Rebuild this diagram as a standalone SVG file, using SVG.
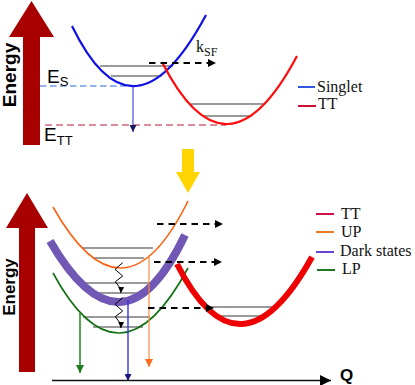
<svg xmlns="http://www.w3.org/2000/svg" width="415" height="385" viewBox="0 0 415 385">
<style>
.lvl{stroke:#9a9a9a;stroke-width:2;fill:none}
.dash{stroke:#000;stroke-width:2;stroke-dasharray:6.5 5;fill:none}
.crv{fill:none}
.leg{font-family:"Liberation Serif","Times New Roman",serif;font-size:16px;fill:#111}
.en{font-family:"Liberation Sans",Arial,sans-serif;font-weight:bold;fill:#000}
.lab{font-family:"Liberation Sans",Arial,sans-serif;fill:#000}
</style>
<defs>
<marker id="ahk" viewBox="0 0 10 10" refX="10" refY="5" markerWidth="8" markerHeight="8" markerUnits="userSpaceOnUse" orient="auto"><path d="M0,0 L10,5 L0,10 z" fill="#000"/></marker>
<marker id="ahs" viewBox="0 0 10 10" refX="10" refY="5" markerWidth="6" markerHeight="6" markerUnits="userSpaceOnUse" orient="auto"><path d="M0,0 L10,5 L0,10 z" fill="#000"/></marker>
<marker id="ahn" viewBox="0 0 10 10" refX="10" refY="5" markerWidth="7" markerHeight="7" markerUnits="userSpaceOnUse" orient="auto"><path d="M0,0 L10,5 L0,10 z" fill="#1a1a60"/></marker>
<marker id="ahb" viewBox="0 0 10 10" refX="10" refY="5" markerWidth="7" markerHeight="7" markerUnits="userSpaceOnUse" orient="auto"><path d="M0,0 L10,5 L0,10 z" fill="#1a1a80"/></marker>
<marker id="ahg" viewBox="0 0 10 10" refX="10" refY="5" markerWidth="8" markerHeight="8" markerUnits="userSpaceOnUse" orient="auto"><path d="M0,0 L10,5 L0,10 z" fill="#1d7a1d"/></marker>
<marker id="aho" viewBox="0 0 10 10" refX="10" refY="5" markerWidth="8" markerHeight="8" markerUnits="userSpaceOnUse" orient="auto"><path d="M0,0 L10,5 L0,10 z" fill="#ff6a1a"/></marker>
<marker id="ahq" viewBox="0 0 10 10" refX="10" refY="5" markerWidth="11" markerHeight="11" markerUnits="userSpaceOnUse" orient="auto"><path d="M0,0 L10,5 L0,10 z" fill="#000"/></marker>
</defs>

<!-- ===== Top panel ===== -->
<g id="top-energy-arrow">
<polygon points="31.5,1 54,37 40,37 40,145 23,145 23,37 9,37" fill="#a80000"/>
<text class="en" font-size="19" transform="translate(16,75) rotate(-90)" text-anchor="middle">Energy</text>
</g>

<g id="top-levels">
<line class="lvl" x1="100" y1="66" x2="173" y2="66"/>
<line class="lvl" x1="111" y1="76" x2="162" y2="76"/>
<line class="lvl" x1="191" y1="104" x2="265" y2="104"/>
<line class="lvl" x1="204" y1="116" x2="252" y2="116"/>
</g>

<g id="top-refs">
<line x1="40" y1="86" x2="134" y2="86" stroke="#6f9be6" stroke-width="1.3" stroke-dasharray="6.5 3.5"/>
<line x1="45" y1="125" x2="226" y2="125" stroke="#d06a7a" stroke-width="1.3" stroke-dasharray="7 4"/>
<text class="lab" x="47" y="83" font-size="19">E<tspan font-size="13" dy="3">S</tspan></text>
<text class="lab" x="44" y="141" font-size="19">E<tspan font-size="13" dy="4">TT</tspan></text>
</g>

<g id="singlet">
<path class="crv" d="M72,26 Q133,151.5 206,15" stroke="#1010e6" stroke-width="2.2"/>
</g>
<g id="tt-top">
<path class="crv" d="M162,62 Q226.5,189 297,56" stroke="#ff0a0a" stroke-width="2.2"/>
</g>

<g id="top-connectors">
<line x1="133" y1="87" x2="133" y2="132" stroke="#4a4ad8" stroke-width="1.2" marker-end="url(#ahn)"/>
<line class="dash" x1="149" y1="63" x2="216" y2="63" marker-end="url(#ahk)"/>
<text x="196" y="52" class="leg" font-size="16">k<tspan font-size="12" dy="4">SF</tspan></text>
</g>

<g id="top-legend">
<line x1="298" y1="87" x2="315" y2="87" stroke="#3355dd" stroke-width="2"/>
<text class="leg" x="317" y="92">Singlet</text>
<line x1="298" y1="106" x2="316" y2="106" stroke="#cc1133" stroke-width="2"/>
<text class="leg" x="318" y="109">TT</text>
</g>

<g id="yellow-arrow">
<polygon points="182,149 194,149 194,172 200,172 188,193 176,172 182,172" fill="#ffd500"/>
</g>

<!-- ===== Bottom panel ===== -->
<g id="bottom-energy-arrow">
<polygon points="27,193 48,228 35,228 35,372 19,372 19,228 6,228" fill="#a80000"/>
<text class="en" font-size="17" transform="translate(15,287) rotate(-90)" text-anchor="middle">Energy</text>
</g>

<g id="bottom-levels">
<line class="lvl" x1="83" y1="248" x2="153" y2="248"/>
<line class="lvl" x1="93" y1="258" x2="144" y2="258"/>
<line class="lvl" x1="83" y1="283" x2="150" y2="283"/>
<line class="lvl" x1="93" y1="293" x2="145" y2="293"/>
<line class="lvl" x1="83" y1="317" x2="150" y2="317"/>
<line class="lvl" x1="93" y1="327" x2="143" y2="327"/>
<line class="lvl" x1="208" y1="307" x2="276" y2="307"/>
<line class="lvl" x1="219" y1="316" x2="265" y2="316"/>
</g>

<g id="UP">
<path class="crv" d="M53,207 Q123.5,332 188,201" stroke="#ff6010" stroke-width="1.6"/>
</g>
<g id="LP">
<path class="crv" d="M53,273 Q119.5,395.5 188,268" stroke="#107010" stroke-width="1.6"/>
</g>
<g id="dark-states">
<path class="crv" d="M50,241 Q122.5,366 185,235" stroke="#7058b4" stroke-width="8"/>
</g>
<g id="TT">
<path class="crv" d="M177,264 Q239.5,387.5 312,257" stroke="#ee0000" stroke-width="6"/>
</g>

<g id="bottom-connectors">
<polyline points="122.7,262.7 115,269.3 122.7,276 115.3,281.7 121,289.3 120.8,293" fill="none" stroke="#000" stroke-width="1" marker-end="url(#ahs)"/>
<polyline points="122.7,297.7 115,304.3 122.7,311 115.3,316.7 121,324.3 120.8,328" fill="none" stroke="#000" stroke-width="1" marker-end="url(#ahs)"/>
<line x1="80" y1="313" x2="80" y2="373" stroke="#1d8a1d" stroke-width="1.5" marker-end="url(#ahg)"/>
<line x1="128" y1="300" x2="128" y2="381" stroke="#3636e0" stroke-width="1.4" marker-end="url(#ahb)"/>
<line x1="149" y1="255" x2="149" y2="367" stroke="#ff8a40" stroke-width="1.2" marker-end="url(#aho)"/>
<line class="dash" x1="157" y1="224" x2="223" y2="224" marker-end="url(#ahk)"/>
<line class="dash" x1="154" y1="262" x2="222" y2="262" marker-end="url(#ahk)"/>
<line class="dash" x1="148" y1="308" x2="214" y2="308" marker-end="url(#ahk)"/>
</g>

<g id="axis">
<line x1="52" y1="380.5" x2="331" y2="380.5" stroke="#111" stroke-width="1.6" marker-end="url(#ahq)"/>
<text class="en" x="340" y="381" font-size="17">Q</text>
</g>

<g id="bottom-legend">
<line x1="316" y1="214" x2="334" y2="214" stroke="#cc1144" stroke-width="2"/>
<text class="leg" x="341" y="219">TT</text>
<line x1="316" y1="232" x2="334" y2="232" stroke="#ee7722" stroke-width="2"/>
<text class="leg" x="341" y="237">UP</text>
<line x1="316" y1="252" x2="334" y2="252" stroke="#6644cc" stroke-width="2"/>
<text class="leg" x="340" y="256">Dark states</text>
<line x1="317" y1="270" x2="335" y2="270" stroke="#227722" stroke-width="2"/>
<text class="leg" x="342" y="274">LP</text>
</g>
</svg>
